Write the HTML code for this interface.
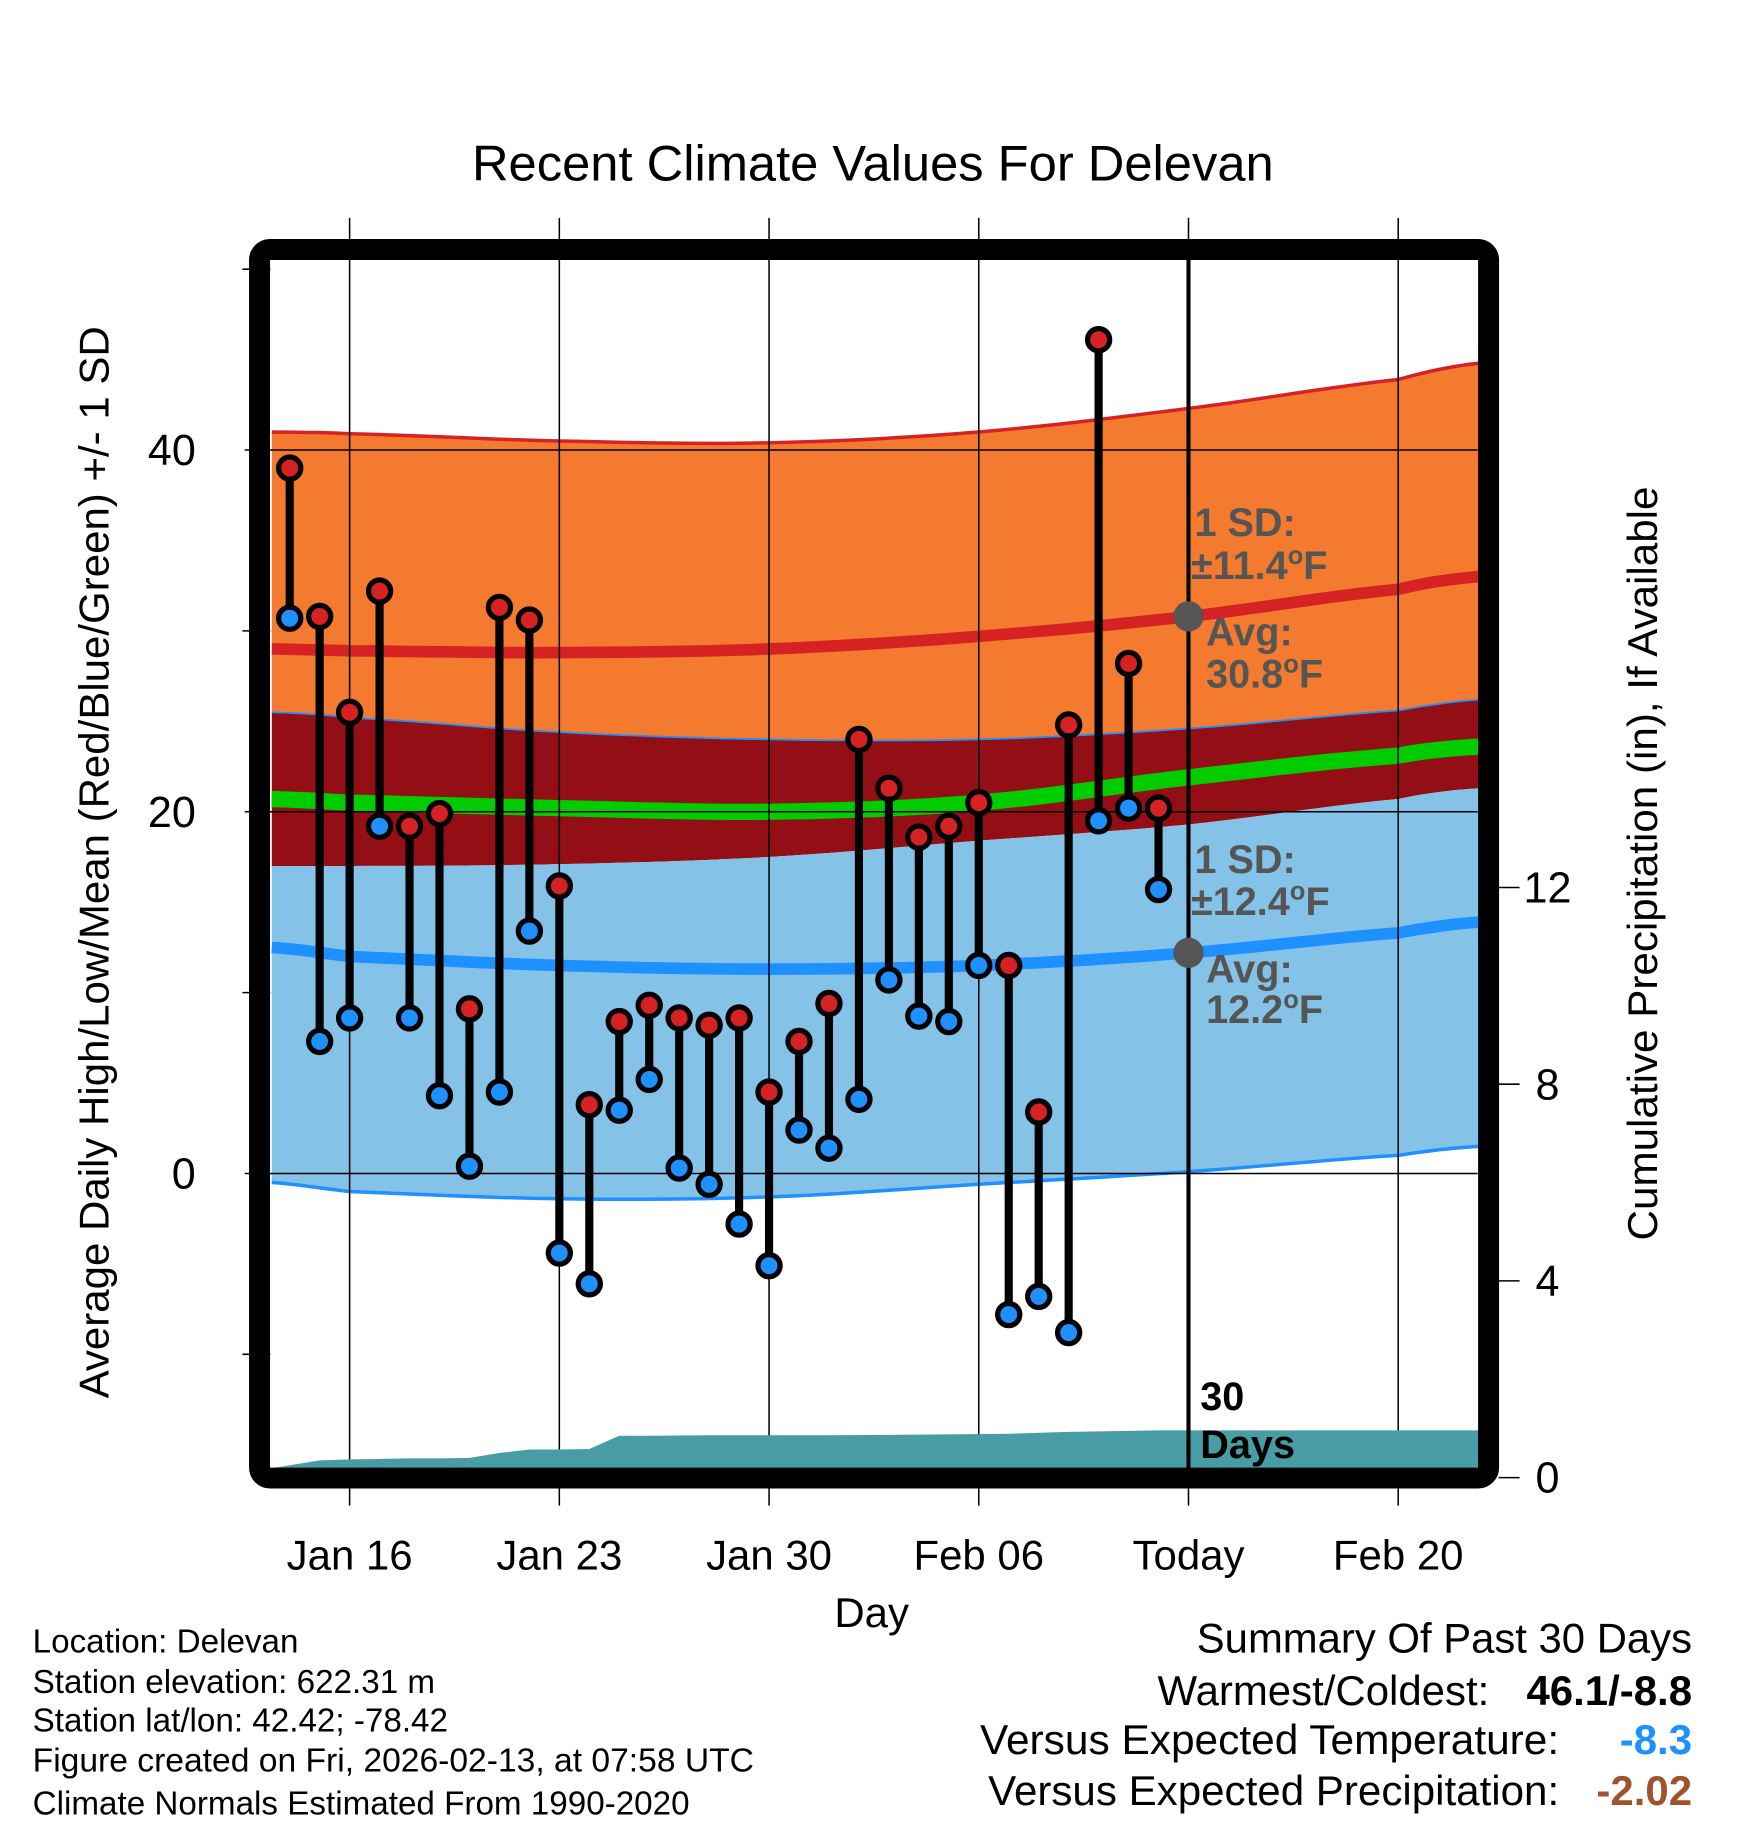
<!DOCTYPE html>
<html><head><meta charset="utf-8"><style>
html,body{margin:0;padding:0;background:#fff}
svg{display:block;font-family:"Liberation Sans",Arial,sans-serif}
</style></head><body>
<svg id="chart" width="1748" height="1828" viewBox="0 0 1500 1568.7" xmlns="http://www.w3.org/2000/svg">
<g id="bands"></g>
<g id="grid"></g>
<g id="precip"></g>
<g id="marks"></g>
<g id="frame"></g>
<g id="labels">
<text x="749" y="155" font-size="43" text-anchor="middle" textLength="688" lengthAdjust="spacingAndGlyphs">Recent Climate Values For Delevan</text>
<text x="748" y="1396" font-size="36" text-anchor="middle">Day</text>
<text transform="translate(93,740) rotate(-90)" font-size="36" text-anchor="middle" textLength="920" lengthAdjust="spacingAndGlyphs">Average Daily High/Low/Mean (Red/Blue/Green) +/- 1 SD</text>
<text transform="translate(1422,741) rotate(-90)" font-size="36" text-anchor="middle" textLength="647" lengthAdjust="spacingAndGlyphs">Cumulative Precipitation (in), If Available</text>
<g font-size="34" font-weight="bold" fill="#555">
<text x="1025" y="460">1 SD:</text>
<text x="1022" y="497">±11.4<tspan dy="-13" font-size="22">o</tspan><tspan dy="13">F</tspan></text>
<text x="1035" y="554">Avg:</text>
<text x="1035" y="590">30.8<tspan dy="-13" font-size="22">o</tspan><tspan dy="13">F</tspan></text>
<text x="1025" y="749">1 SD:</text>
<text x="1022" y="785">±12.4<tspan dy="-13" font-size="22">o</tspan><tspan dy="13">F</tspan></text>
<text x="1035" y="843">Avg:</text>
<text x="1035" y="878">12.2<tspan dy="-13" font-size="22">o</tspan><tspan dy="13">F</tspan></text>
</g>
<text x="1030" y="1210" font-size="34" font-weight="bold">30</text>
<text x="1030" y="1251" font-size="34" font-weight="bold">Days</text>
<g font-size="28.5">
<text x="28" y="1418">Location: Delevan</text>
<text x="28" y="1453">Station elevation: 622.31 m</text>
<text x="28" y="1486">Station lat/lon: 42.42; -78.42</text>
<text x="28" y="1520" textLength="619" lengthAdjust="spacingAndGlyphs">Figure created on Fri, 2026-02-13, at 07:58 UTC</text>
<text x="28" y="1557">Climate Normals Estimated From 1990-2020</text>
</g>
<g font-size="36">
<text x="1452" y="1418" text-anchor="end" textLength="425" lengthAdjust="spacingAndGlyphs">Summary Of Past 30 Days</text>
<text x="1278" y="1463" text-anchor="end">Warmest/Coldest:</text>
<text x="1452" y="1463" text-anchor="end" font-weight="bold">46.1/-8.8</text>
<text x="1338" y="1505" text-anchor="end" textLength="497" lengthAdjust="spacingAndGlyphs">Versus Expected Temperature:</text>
<text x="1452" y="1505" text-anchor="end" font-weight="bold" fill="#1e90ff">-8.3</text>
<text x="1338" y="1549" text-anchor="end" textLength="490" lengthAdjust="spacingAndGlyphs">Versus Expected Precipitation:</text>
<text x="1452" y="1549" text-anchor="end" font-weight="bold" fill="#a0522d">-2.02</text>
</g>
</g>
</svg>
<script>
// ---- data ----
const normDays = [-2.6, 0, 7, 14, 21, 28, 35, 37.7]; // days from Jan 16
const hiTop  = [41.0, 40.9, 40.5, 40.4, 41.0, 42.3, 43.9, 44.8];
const hiMean = [29.0, 28.9, 28.8, 29.0, 29.7, 30.8, 32.3, 33.0];
const hiBot  = [25.5, 25.2, 24.4, 24.0, 24.0, 24.6, 25.6, 26.2];
const avgMean= [20.7, 20.5, 20.2, 20.0, 20.5, 21.9, 23.1, 23.6];
const loTop  = [17.0, 17.0, 17.1, 17.5, 18.4, 19.3, 20.7, 21.3];
const loMean = [12.5, 12.0, 11.5, 11.3, 11.5, 12.2, 13.3, 13.9];
const loBot  = [-0.5, -1.0, -1.4, -1.3, -0.6, 0.1, 1.0, 1.5];
const dayStart = -2; // Jan 14
const highs = [39.0,30.8,25.5,32.2,19.2,19.9,9.1,31.3,30.6,15.9,3.8,8.4,9.3,8.6,8.2,8.6,4.5,7.3,9.4,24.0,21.3,18.6,19.2,20.5,11.5,3.4,24.8,46.1,28.2,20.2];
const lows  = [30.7,7.3,8.6,19.2,8.6,4.3,0.4,4.5,13.4,-4.4,-6.1,3.5,5.2,0.3,-0.6,-2.8,-5.1,2.4,1.4,4.1,10.7,8.7,8.4,11.5,-7.8,-6.8,-8.8,19.5,20.2,15.7];
const precipDays = [-2.6,-1,0,1,2,3,4,5,6,7,8,9,10,12,14,16,18,20,22,24,26,27,37.7];
const precipCum  = [0.19,0.35,0.37,0.38,0.39,0.39,0.40,0.50,0.57,0.57,0.58,0.85,0.85,0.86,0.86,0.86,0.87,0.88,0.89,0.93,0.95,0.96,0.96];
const xTickLabels = ["Jan 16","Jan 23","Jan 30","Feb 06","Today","Feb 20"];
const xTickDays = [0,7,14,21,28,35];
const yTicks = [0,20,40];
const yMinor = [-10,10,30,50];
const pTicks = [0,4,8,12];
const todayDay = 28;
const todayHiAvg = 30.8, todayLoAvg = 12.2;

// ---- axes ----
const L=232, R=1268, T=223, B=1260;
const X = d => 300 + 25.71*d;
const Y = t => 1007 - 15.52*t;
const P = p => 1268 - 42.2*p;
const NS="http://www.w3.org/2000/svg";
function mk(tag, parent, attrs){const e=document.createElementNS(NS,tag);for(const k in attrs)e.setAttribute(k,attrs[k]);parent.appendChild(e);return e;}
const bands=document.getElementById('bands'), grid=document.getElementById('grid'), prec=document.getElementById('precip'), marks=document.getElementById('marks'), frame=document.getElementById('frame'), svg=document.getElementById('chart');

// smooth (Catmull-Rom sampled) points
function smooth(arr){
  const pts=[];
  const n=normDays.length;
  for(let i=0;i<n-1;i++){
    const p0=Math.max(0,i-1), p3=Math.min(n-1,i+2);
    for(let s=0;s<10;s++){
      const t=s/10,t2=t*t,t3=t2*t;
      const f=(a)=>0.5*((2*a[i+1-1+0]) + (-a[p0]+a[i+1])*t + (2*a[p0]-5*a[i]+4*a[i+1]-a[p3])*t2 + (-a[p0]+3*a[i]-3*a[i+1]+a[p3])*t3);
      const d=normDays[i]+(normDays[i+1]-normDays[i])*t;
      const v=0.5*((2*arr[i]) + (-arr[p0]+arr[i+1])*t + (2*arr[p0]-5*arr[i]+4*arr[i+1]-arr[p3])*t2 + (-arr[p0]+3*arr[i]-3*arr[i+1]+arr[p3])*t3);
      pts.push(X(d).toFixed(1)+','+Y(v).toFixed(1));
    }
  }
  pts.push(X(normDays[n-1]).toFixed(1)+','+Y(arr[n-1]).toFixed(1));
  return pts;
}
function area(top,bot){return smooth(top).concat(smooth(bot).reverse()).join(' ');}
let e;
e=mk('polygon',bands,{points:area(hiTop,hiBot),fill:'#f47a30'});


e=mk('polygon',bands,{points:area(hiBot,loTop),fill:'#930f15'});


e=mk('polygon',bands,{points:area(loTop,loBot),fill:'#85c2e8'});


e=mk('polyline',bands,{points:smooth(hiTop).join(' '),fill:'none',stroke:'#d62222','stroke-width':3});


e=mk('polyline',bands,{points:smooth(hiBot).join(' '),fill:'none',stroke:'#1e90ff','stroke-width':1.5});


e=mk('polyline',bands,{points:smooth(loBot).join(' '),fill:'none',stroke:'#1e90ff','stroke-width':3});


e=mk('polyline',bands,{points:smooth(hiMean).join(' '),fill:'none',stroke:'#d62222','stroke-width':10});


e=mk('polyline',bands,{points:smooth(avgMean).join(' '),fill:'none',stroke:'#00cc00','stroke-width':14});


e=mk('polyline',bands,{points:smooth(loMean).join(' '),fill:'none',stroke:'#1e90ff','stroke-width':10});



// grid
xTickDays.forEach((d,i)=>{
  e=mk('line',grid,{x1:X(d),x2:X(d),y1:187,y2:1292,stroke:'#000','stroke-width':1.3});
  
  
  const t=mk('text',grid,{x:X(d),y:1347,'font-size':36,'text-anchor':'middle'});
  t.textContent=xTickLabels[i];
  
  
});
yTicks.forEach(v=>{
  e=mk('line',grid,{x1:210,x2:R,y1:Y(v),y2:Y(v),stroke:'#000','stroke-width':1.3});
  
  
  const t=mk('text',grid,{x:168,y:Y(v)+13,'font-size':37,'text-anchor':'end'});
  t.textContent=v;
  
  
});
yMinor.forEach(v=>{
  e=mk('line',grid,{x1:208,x2:L,y1:Y(v),y2:Y(v),stroke:'#000','stroke-width':1.3});
  
  
});
pTicks.forEach(v=>{
  e=mk('line',grid,{x1:1286,x2:1304,y1:P(v),y2:P(v),stroke:'#000','stroke-width':1.3});
  
  
  const t=mk('text',grid,{x:1328,y:P(v)+13,'font-size':37,'text-anchor':'middle'});
  t.textContent=v;
  
  
});

// precip
const pp=precipDays.map((d,i)=>X(d).toFixed(1)+','+Math.min(B,P(precipCum[i])).toFixed(1));
pp.push(X(precipDays[precipDays.length-1]).toFixed(1)+','+B, X(precipDays[0]).toFixed(1)+','+B);
e=mk('polygon',prec,{points:pp.join(' '),fill:'#489ca3'});



// today line
e=mk('line',marks,{x1:X(todayDay),x2:X(todayDay),y1:T,y2:B,stroke:'#000','stroke-width':3.5});



// daily marks
highs.forEach((h,i)=>{
  const x=X(dayStart+i);
  e=mk('line',marks,{x1:x,x2:x,y1:Y(h),y2:Y(lows[i]),stroke:'#000','stroke-width':7});
  
  
});
highs.forEach((h,i)=>{
  const x=X(dayStart+i);
  e=mk('circle',marks,{cx:x,cy:Y(lows[i]),r:9.5,fill:'#1e90ff',stroke:'#000','stroke-width':4.5});
  
  
  e=mk('circle',marks,{cx:x,cy:Y(h),r:9.5,fill:'#d62222',stroke:'#000','stroke-width':4.5});
  
  
});
e=mk('circle',marks,{cx:X(todayDay),cy:Y(todayHiAvg),r:13,fill:'#555'});


e=mk('circle',marks,{cx:X(todayDay),cy:Y(todayLoAvg),r:13,fill:'#555'});



// frame
e=mk('rect',frame,{x:222.7,y:214.1,width:1054.7,height:1054.3,rx:9,fill:'none',stroke:'#000','stroke-width':18});



svg.appendChild(document.getElementById('labels'));
</script>
</body></html>
